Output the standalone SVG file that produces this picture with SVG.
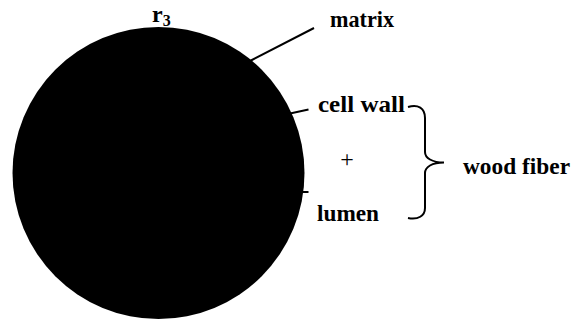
<svg xmlns="http://www.w3.org/2000/svg" width="574" height="320" viewBox="0 0 574 320">
<style>
.lbl{font-family:"Liberation Serif","Times New Roman",serif;font-weight:bold;font-size:24px;fill:#000}
.ln{stroke:#000;stroke-width:2;fill:none}
</style>
<rect width="574" height="320" fill="#fff"/>
<g id="circle"><circle cx="158.5" cy="173" r="146" fill="#000"/></g>
<g id="r3"><text class="lbl" x="152" y="22">r<tspan font-size="16" dy="4">3</tspan></text></g>
<g id="connectors">
<line class="ln" x1="250" y1="61" x2="314" y2="28"/>
<line class="ln" x1="290" y1="113.5" x2="308.5" y2="109.5"/>
<line class="ln" x1="302" y1="192" x2="308.5" y2="192"/>
<path class="ln" d="M408,107 C418,104 425,108 425,118 L425,152 C425,158 432,162.5 444,162.5 C432,162.5 425,167 425,173 L425,208 C425,216 418,220 408,218"/>
</g>
<g id="matrix"><text class="lbl" x="330" y="27" textLength="64" lengthAdjust="spacingAndGlyphs">matrix</text></g>
<g id="cellwall"><text class="lbl" x="318" y="111.5" textLength="87" lengthAdjust="spacingAndGlyphs">cell wall</text></g>
<g id="plus"><text x="347" y="167" font-family="Liberation Serif, serif" font-size="24" text-anchor="middle">+</text></g>
<g id="lumen"><text class="lbl" x="317" y="221" textLength="62" lengthAdjust="spacingAndGlyphs">lumen</text></g>
<g id="woodfiber"><text class="lbl" x="463" y="174" textLength="107" lengthAdjust="spacingAndGlyphs">wood fiber</text></g>
</svg>
